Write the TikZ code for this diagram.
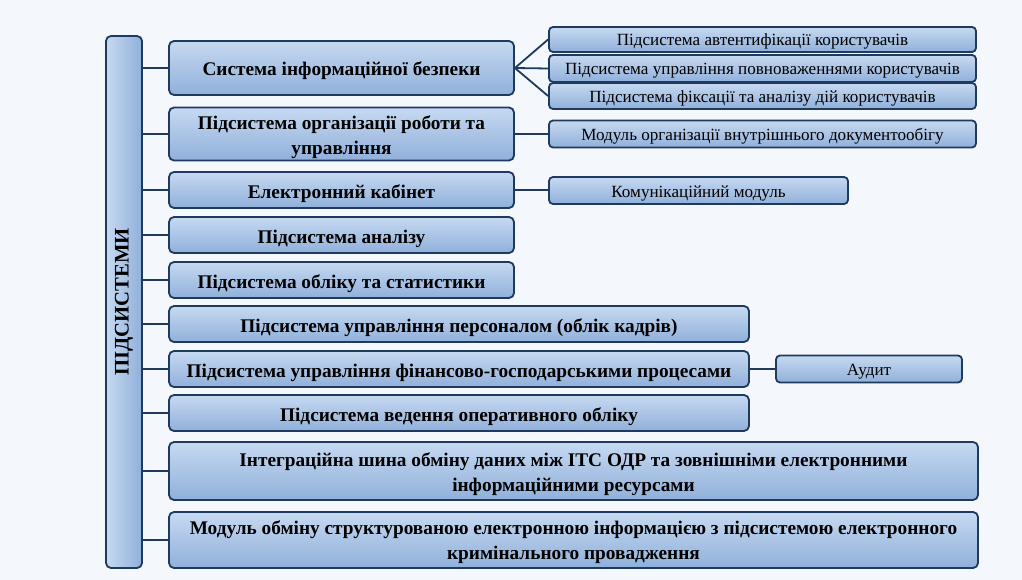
\documentclass[tikz,border=0pt]{standalone}
\usepackage{fontspec}
\setmainfont{Liberation Serif}
\usetikzlibrary{positioning}

\definecolor{edgeblue}{HTML}{1F3A5F}
\definecolor{topblue}{HTML}{C6D9F1}
\definecolor{botblue}{HTML}{90B0DA}
\definecolor{pagebg}{HTML}{F4F7FB}

\tikzset{
  part/.style = {draw = edgeblue, line width = 1.8pt, rounded corners = 5pt,
    top color = topblue, bottom color = botblue, inner sep = 2pt, align = center},
  mainbox/.style = {part, font = \bfseries\fontsize{19.3}{25}\selectfont, text height = 16pt, text depth = 0pt},
  twolines/.style = {text height = 41pt, text depth = 0pt},
  subbox/.style = {part, rounded corners = 4pt, font = \fontsize{17.1}{19}\selectfont, text height = 13pt, text depth = 0pt},
  link/.style = {draw = edgeblue, line width = 1.8pt}
}

\begin{document}
\begin{tikzpicture}[x = 1pt, y = -1pt]
      \fill [pagebg] (0, 0) rectangle (1022, 580);
      % vertical bar
      \node [part, left color = topblue, right color = botblue, minimum width = 36pt, minimum height = 532pt] (bar) at (124, 302)
        {\rotatebox{90}{\bfseries\fontsize{20.7}{22}\selectfont ПІДСИСТЕМИ}};
      % main subsystems
      \node [mainbox, minimum width = 345pt, minimum height = 54pt] (secure) at (341.5, 68) {Система інформаційної безпеки};
      \node [mainbox, twolines, minimum width = 345pt, minimum height = 53pt] (work) at (341.5, 134) {Підсистема організації роботи та\\ управління};
      \node [mainbox, minimum width = 345pt, minimum height = 36pt] (cabinet) at (341.5, 190) {Електронний кабінет};
      \node [mainbox, minimum width = 345pt, minimum height = 36pt] (analysis) at (341.5, 235) {Підсистема аналізу};
      \node [mainbox, minimum width = 345pt, minimum height = 36pt] (stats) at (341.5, 280) {Підсистема обліку та статистики};
      \node [mainbox, minimum width = 580pt, minimum height = 36pt] (staff) at (459, 324) {Підсистема управління персоналом (облік кадрів)};
      \node [mainbox, minimum width = 580pt, minimum height = 36pt] (finance) at (459, 369) {Підсистема управління фінансово-господарськими процесами};
      \node [mainbox, minimum width = 580pt, minimum height = 36pt] (oper) at (459, 413) {Підсистема ведення оперативного обліку};
      \node [mainbox, twolines, minimum width = 809pt, minimum height = 58pt] (bus) at (573.5, 471) {Інтеграційна шина обміну даних між ІТС ОДР та зовнішніми електронними\\ інформаційними ресурсами};
      \node [mainbox, twolines, text height = 39pt, minimum width = 809pt, minimum height = 56pt] (crime) at (573.5, 540) {Модуль обміну структурованою електронною інформацією з підсистемою електронного\\ кримінального провадження};
      % modules on the right
      \node [subbox, minimum width = 427pt, minimum height = 25pt] (auth) at (762.5, 39.5) {Підсистема автентифікації користувачів};
      \node [subbox, minimum width = 427pt, minimum height = 27pt] (rights) at (762.5, 68.5) {Підсистема управління повноваженнями користувачів};
      \node [subbox, minimum width = 427pt, minimum height = 26pt] (actions) at (762.5, 96) {Підсистема фіксації та аналізу дій користувачів};
      \node [subbox, minimum width = 427pt, minimum height = 27pt] (docs) at (762.5, 134) {Модуль організації внутрішнього документообігу};
      \node [subbox, minimum width = 299pt, minimum height = 27pt] (comm) at (698.5, 190.5) {Комунікаційний модуль};
      \node [subbox, minimum width = 186pt, minimum height = 27pt] (audit) at (869, 369) {Аудит};
      % links from the bar
      \foreach \sys in {secure, work, cabinet, analysis, stats, staff, finance, oper, bus, crime}{
        \draw [link] (bar.east |- \sys.west) -- (\sys.west);
      }
      % links to the modules
      \foreach \mod in {auth, rights, actions}{
        \draw [link] (secure.east) -- (\mod.west);
      }
      \draw [link] (work.east) -- (docs.west |- work.east);
      \draw [link] (cabinet.east) -- (comm.west |- cabinet.east);
      \draw [link] (finance.east) -- (audit.west);
    \end{tikzpicture}
\end{document}
